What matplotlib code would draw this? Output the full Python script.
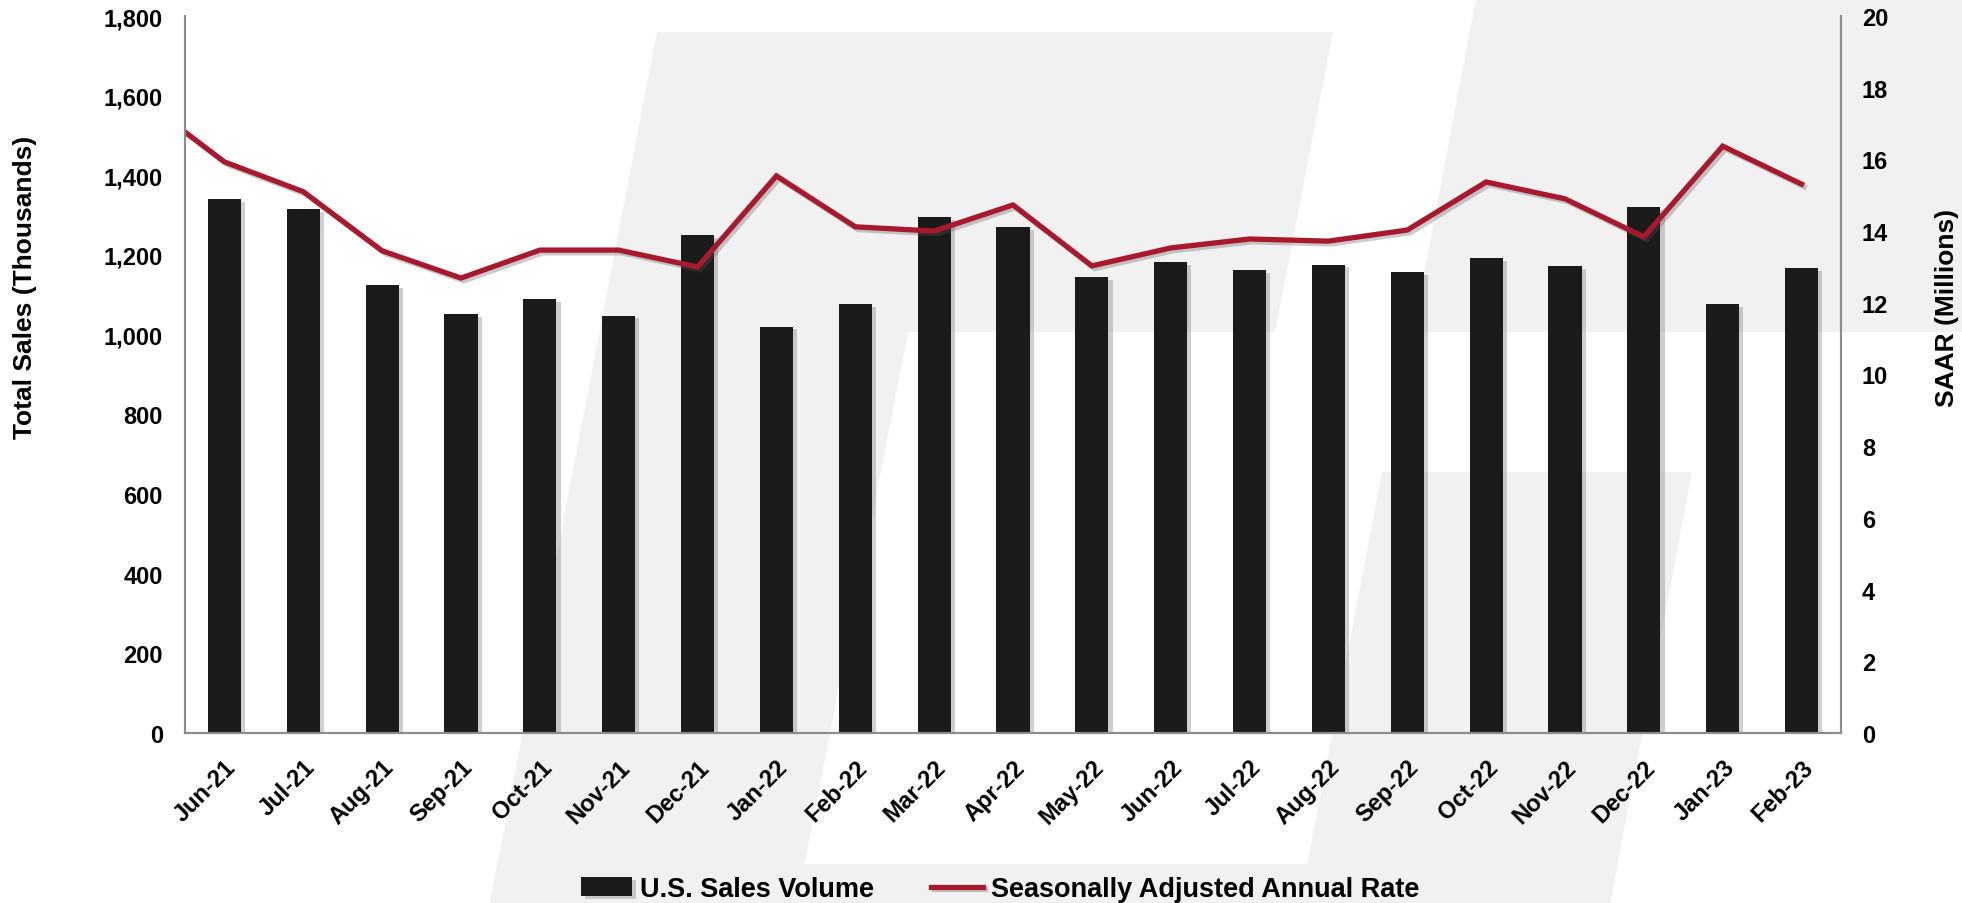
import numpy as np
import matplotlib
matplotlib.use("Agg")
import matplotlib.pyplot as plt
import matplotlib.patheffects as pe
import matplotlib.transforms as mtransforms
from matplotlib.patches import Polygon
from matplotlib.ticker import FuncFormatter, MultipleLocator

plt.rcParams["font.family"] = ["Liberation Sans", "DejaVu Sans"]
plt.rcParams["font.weight"] = "bold"

# ── Data ──────────────────────────────────────────────────────────────────────
months = ["Jun-21", "Jul-21", "Aug-21", "Sep-21", "Oct-21", "Nov-21", "Dec-21",
          "Jan-22", "Feb-22", "Mar-22", "Apr-22", "May-22", "Jun-22", "Jul-22",
          "Aug-22", "Sep-22", "Oct-22", "Nov-22", "Dec-22", "Jan-23", "Feb-23"]

# U.S. sales volume (thousands)
sales = [1341, 1315, 1125, 1052, 1089, 1048, 1249, 1020, 1077, 1296, 1270,
         1145, 1183, 1163, 1176, 1157, 1193, 1173, 1320, 1077, 1168]

# SAAR (millions); the line enters the plot from the prior month (May-21)
saar_prev = 17.6
saar = [15.93, 15.1, 13.45, 12.69, 13.47, 13.47, 13.0, 15.54, 14.12, 14.0,
        14.73, 13.03, 13.53, 13.78, 13.72, 14.03, 15.37, 14.9, 13.84, 16.37, 15.31]

BAR_COLOR = "#1b1b1b"
LINE_COLOR = "#a8192e"
BG_GRAY = "#f1f1f1"
SPINE_GRAY = "#8c8c8c"

W, H = 1962, 904

fig = plt.figure(figsize=(W / 100, H / 100), dpi=100)
fig.patch.set_facecolor("white")

# ── Background watermark shapes (pixel coords, y down) ───────────────────────
shapes = [
    [(657, 33), (1333, 33), (1275, 333), (908, 333), (797, 904), (490, 904)],
    [(497, 865), (1618, 865), (1610, 904), (490, 904)],
    [(1382, 473), (1692, 473), (1610, 904), (1300, 904)],
    [(1476, 0), (1962, 0), (1962, 333), (1413, 333)],
]
for pts in shapes:
    xy = [(px / W, 1 - py / H) for px, py in pts]
    fig.add_artist(Polygon(xy, closed=True, transform=fig.transFigure,
                           facecolor=BG_GRAY, edgecolor="none", zorder=-5))

# ── Axes ──────────────────────────────────────────────────────────────────────
left, right, bottom, top = 185 / W, 1841 / W, 1 - 734 / H, 1 - 17 / H
ax = fig.add_axes([left, bottom, right - left, top - bottom])
ax.patch.set_visible(False)
ax2 = ax.twinx()
ax2.patch.set_visible(False)

x = np.arange(len(months))
ax.bar(x, sales, width=0.42, color=BAR_COLOR, zorder=2,
       path_effects=[pe.SimplePatchShadow(offset=(3, -2), shadow_rgbFace="#777777", alpha=0.35),
                     pe.Normal()],
       label="U.S. Sales Volume")

line_x = np.concatenate([[x[0] - 1], x])
line_y = [saar_prev] + saar
ax2.plot(line_x, line_y, color=LINE_COLOR, lw=3.8, solid_joinstyle="miter",
         path_effects=[pe.SimpleLineShadow(offset=(2, -2), shadow_color="#555555", alpha=0.3),
                       pe.Normal()],
         label="Seasonally Adjusted Annual Rate")

ax.set_xlim(-0.5, len(months) - 0.5)
ax.set_ylim(0, 1800)
ax2.set_ylim(0, 20)
ax.yaxis.set_major_locator(MultipleLocator(200))
ax2.yaxis.set_major_locator(MultipleLocator(2))
ax.yaxis.set_major_formatter(FuncFormatter(lambda v, _: f"{int(v):,}"))

ax.set_xticks(x)
ax.set_xticklabels(months, rotation=45, ha="right", va="top",
                   rotation_mode="anchor", fontsize=17, fontweight="bold")
shift = mtransforms.ScaledTranslation(-4 / 100, 0, fig.dpi_scale_trans)
for lbl in ax.get_xticklabels():
    lbl.set_transform(lbl.get_transform() + shift)
ax.tick_params(axis="x", length=0, pad=16)
ax.tick_params(axis="y", length=0, pad=16, labelsize=17)
ax2.tick_params(axis="y", length=0, pad=15, labelsize=17)

for a in (ax, ax2):
    a.spines["top"].set_visible(False)
    for s in ("left", "right", "bottom"):
        a.spines[s].set_color(SPINE_GRAY)
        a.spines[s].set_linewidth(1.5)

# ── Axis titles ───────────────────────────────────────────────────────────────
fig.text(25 / W, 1 - 287 / H, "Total Sales (Thousands)", rotation=90,
         ha="center", va="center", fontsize=19, fontweight="bold")
fig.text(1947 / W, 1 - 308 / H, "SAAR (Millions)", rotation=90,
         ha="center", va="center", fontsize=19, fontweight="bold")

# ── Legend ────────────────────────────────────────────────────────────────────
h1, l1 = ax.get_legend_handles_labels()
h2, l2 = ax2.get_legend_handles_labels()
fig.legend(h1 + h2, l1 + l2, loc="center", bbox_to_anchor=(1000 / W, 1 - 890 / H),
           ncol=2, frameon=False, handlelength=1.9, handletextpad=0.3,
           columnspacing=2.1, prop={"weight": "bold", "size": 19.5})

fig.savefig("out.png", dpi=100)
